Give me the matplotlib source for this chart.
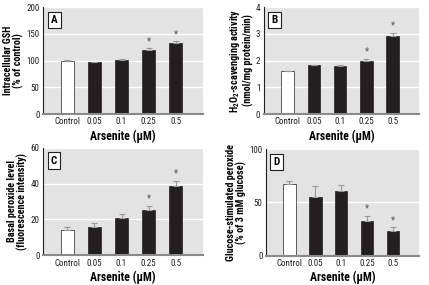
import matplotlib
matplotlib.use("Agg")
import matplotlib.pyplot as plt
from matplotlib import font_manager
import numpy as np

# condensed family with a bold face, like the journal's Helvetica Condensed
bold_names = {f.name for f in font_manager.fontManager.ttflist if f.weight in (700, "bold")}
family = "Liberation Sans"
for cand in ["Liberation Sans Narrow", "Roboto Condensed", "Arial Narrow",
             "Barlow Semi Condensed", "Asap Condensed", "Barlow Condensed"]:
    if cand in bold_names:
        family = cand
        break
plt.rcParams["font.family"] = [family, "DejaVu Sans"]
plt.rcParams["mathtext.fontset"] = "custom"
plt.rcParams["mathtext.rm"] = family + ":bold"
plt.rcParams["mathtext.default"] = "rm"

categories = ["Control", "0.05", "0.1", "0.25", "0.5"]

gsh = [100, 97, 101, 120, 133]
gsh_err = [1, 1, 2, 3, 3]
gsh_sig = [False, False, False, True, True]

h2o2 = [1.6, 1.82, 1.8, 2.0, 2.93]
h2o2_err = [0.02, 0.02, 0.03, 0.06, 0.12]
h2o2_sig = [False, False, False, True, True]

basal = [14, 15.5, 21, 25, 38.5]
basal_err = [1.5, 2.5, 1.8, 2.5, 3.0]
basal_sig = [False, False, False, True, True]

gluc = [67, 55, 61, 33, 23]
gluc_err = [3.5, 10, 5.5, 4.5, 4]
gluc_sig = [False, False, False, True, True]

panels = [
    ("A", gsh, gsh_err, gsh_sig, [0, 50, 100, 150, 200],
     "Intracellular GSH\n(% of control)", [0.100, 0.60, 0.373, 0.375]),
    ("B", h2o2, h2o2_err, h2o2_sig, [0, 1, 2, 3, 4],
     "H$_2$O$_2$-scavenging activity\n(nmol/mg protein/min)", [0.615, 0.60, 0.362, 0.375]),
    ("C", basal, basal_err, basal_sig, [0, 20, 40, 60],
     "Basal peroxide level\n(fluorescence intensity)", [0.100, 0.105, 0.373, 0.376]),
    ("D", gluc, gluc_err, gluc_sig, [0, 50, 100],
     "Glucose-stimulated peroxide\n(% of 3 mM glucose)", [0.620, 0.102, 0.357, 0.375]),
]

fig = plt.figure(figsize=(4.29, 2.85), dpi=100)
x = np.arange(len(categories))
colors = ["white"] + ["#231f20"] * 4

for letter, vals, errs, sig, yticks, ylabel, pos in panels:
    ax = fig.add_axes(pos)
    ax.set_facecolor("#e3e3e3")
    ymax = yticks[-1]
    ax.set_ylim(0, ymax)
    ax.set_xlim(-0.9, 5.0)
    ax.set_yticks(yticks)
    ax.yaxis.grid(True, color="white", lw=1.0)
    ax.set_axisbelow(True)
    ax.bar(x, vals, width=0.48, color=colors, edgecolor="#231f20", lw=0.5, zorder=2)
    ax.errorbar(x, vals, yerr=[np.zeros(len(errs)), errs], fmt="none",
                ecolor="#9a9a9a", elinewidth=0.8, capsize=2, capthick=0.8, zorder=3)
    for xi, v, e, s in zip(x, vals, errs, sig):
        if s:
            ax.text(xi, v + e + ymax * 0.02, "*", ha="center", va="bottom",
                    fontsize=7, color="#555555")
    ax.set_xticks(x)
    ax.set_xticklabels(categories)
    ax.tick_params(axis="both", labelsize=6.5, length=0, pad=2.5, colors="#231f20")
    for side in ["top", "right"]:
        ax.spines[side].set_visible(False)
    ax.spines["left"].set_color("#231f20")
    ax.spines["left"].set_linewidth(0.8)
    ax.spines["bottom"].set_color("#8a8a8a")
    ax.spines["bottom"].set_linewidth(1.5)
    ax.set_xlabel("Arsenite (\u03bcM)", fontsize=8.5, fontweight="bold", labelpad=2)
    ax.set_ylabel(ylabel, fontsize=7.3, fontweight="bold", labelpad=1.5, linespacing=1.0)
    ax.text(0.05, 0.88, letter, transform=ax.transAxes, fontsize=8, fontweight="bold",
            ha="left", va="center",
            bbox=dict(boxstyle="square,pad=0.3", fc="white", ec="#231f20", lw=0.8))

fig.savefig("out.png", dpi=100)
